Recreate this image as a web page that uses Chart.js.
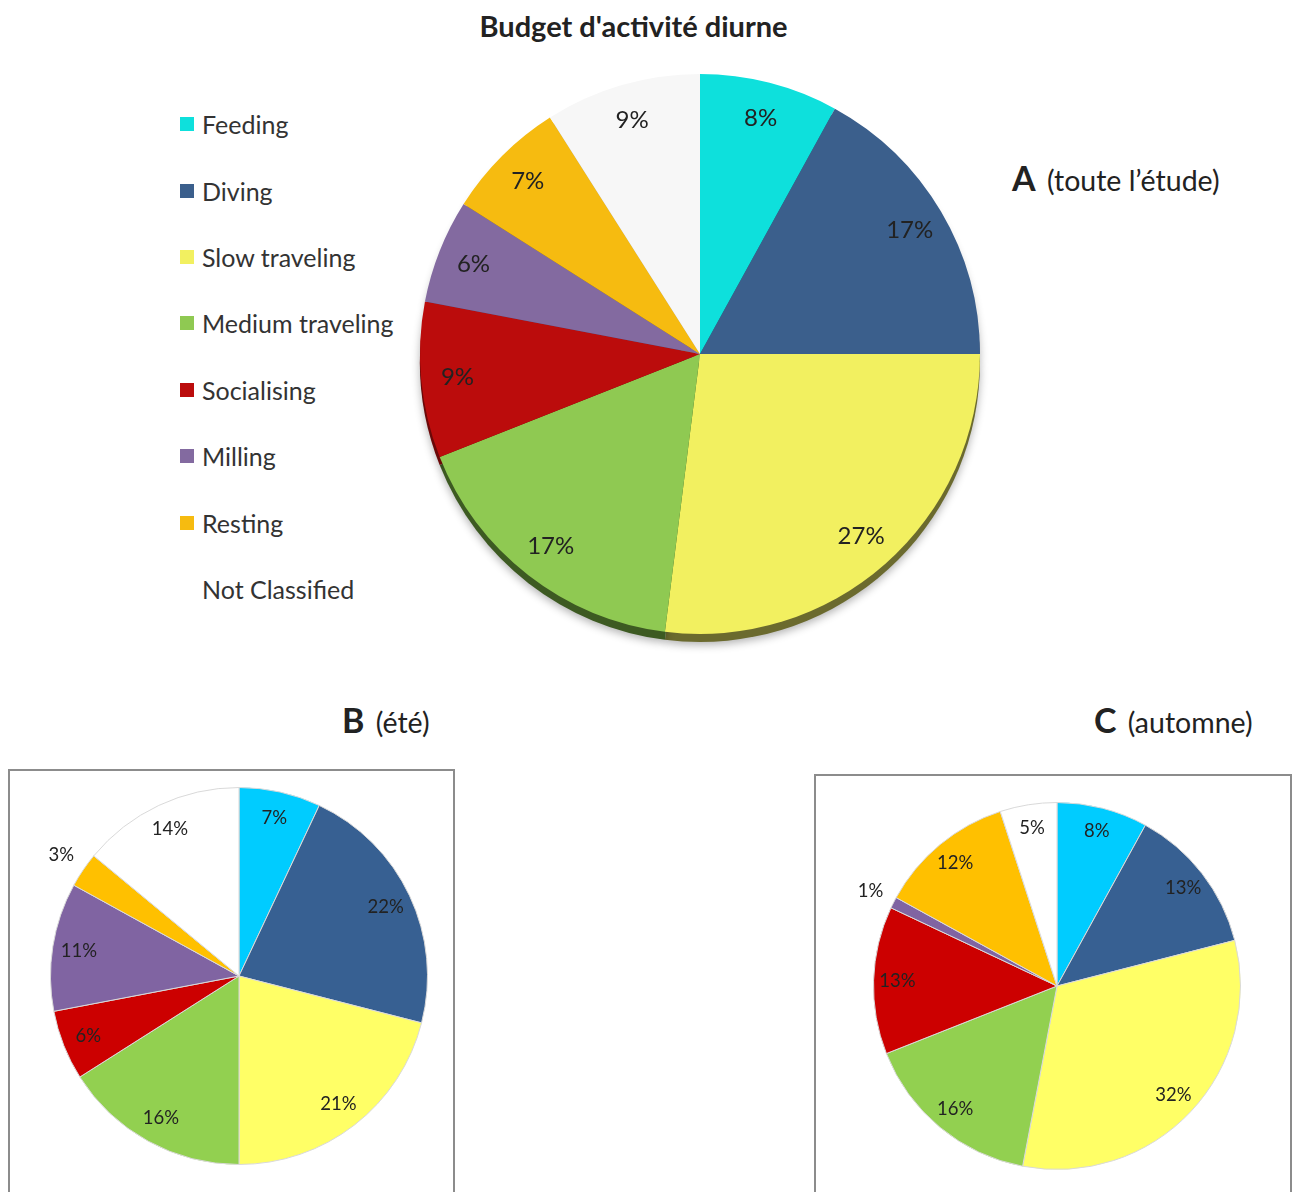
<!DOCTYPE html>
<html>
<head>
<meta charset="utf-8">
<title>Budget d'activité diurne</title>
<script src="https://cdn.jsdelivr.net/npm/chart.js@4.4.0/dist/chart.umd.min.js"></script>
<style>
  body { margin: 0; background: #fff; font-family: Lato, "Open Sans", sans-serif; color: #222; }
  #page { position: relative; width: 1292px; height: 1192px; overflow: hidden; }
  .abs { position: absolute; }
  .titre { font-weight: bold; font-size: 29px; line-height: 38px; white-space: nowrap; }
  .lettre { font-size: 28.5px; line-height: 40px; white-space: nowrap; }
  .lettre b { font-size: 34px; margin-right: 4px; }
  .cadre { border: 2px solid #8c8c8c; box-sizing: border-box; }
  #legende { left: 180px; top: 91px; }
  #legende .item { height: 66.4px; display: flex; align-items: center; font-size: 25px; color: #333; }
  #legende .carre { width: 14px; height: 14px; margin-right: 8px; }
</style>
</head>
<body>
<div id="page">
  <div class="abs titre" style="left:0; width:1267px; top:7px; text-align:center;">Budget d'activité diurne</div>
  <div class="abs lettre" style="left:1012px; top:158px;"><b>A</b> (toute l’étude)</div>
  <div class="abs lettre" style="left:342px; top:700px;"><b>B</b> (été)</div>
  <div class="abs lettre" style="left:1094px; top:700px;"><b>C</b> (automne)</div>

  <div id="legende" class="abs"></div>

  <div class="abs cadre" style="left:8px; top:769px; width:447px; height:440px;"></div>
  <div class="abs cadre" style="left:814px; top:774px; width:478px; height:440px;"></div>

  <canvas id="pieA" class="abs" width="580" height="600" style="left:410px; top:64px;"></canvas>
  <canvas id="pieB" class="abs" width="458" height="458" style="left:10px; top:747px;"></canvas>
  <canvas id="pieC" class="abs" width="448" height="448" style="left:833px; top:762px;"></canvas>
</div>

<script>
// categories et pourcentages par periode
const categories = ["Feeding", "Diving", "Slow traveling", "Medium traveling", "Socialising", "Milling", "Resting", "Not Classified"];
const valeursA = [8, 17, 27, 17, 9, 6, 7, 9];   // toute l'etude
const valeursB = [7, 22, 21, 16, 6, 11, 3, 14]; // ete
const valeursC = [8, 13, 32, 16, 13, 1, 12, 5]; // automne

const couleursA = ['#0ee0dc', '#3b5f8c', '#f2f060', '#8fc952', '#bb0c0c', '#836aa0', '#f6bb10', '#f7f7f7'];
const bordsA    = ['#0a8f8c', '#23384f', '#6b6a2e', '#3d5a22', '#6b0808', '#4b3c5c', '#8a6a08', '#a0a0a0'];
const couleursBC = ['#00ccff', '#376092', '#ffff66', '#92d050', '#cc0000', '#8064a2', '#ffc000', '#ffffff'];

// pourcentages ecrits dans les parts (ou a l'exterieur pour les petites)
const etiquettes = {
  id: 'etiquettes',
  afterDatasetsDraw(chart, args, opts) {
    const ctx = chart.ctx;
    const meta = chart.getDatasetMeta(0);
    const data = chart.data.datasets[0].data;
    const total = data.reduce((a, b) => a + b, 0);
    ctx.save();
    ctx.font = opts.font;
    ctx.fillStyle = opts.color;
    ctx.textAlign = 'center';
    ctx.textBaseline = 'middle';
    meta.data.forEach((arc, i) => {
      const p = arc.getProps(['x', 'y', 'startAngle', 'endAngle', 'outerRadius'], true);
      const mid = (p.startAngle + p.endAngle) / 2;
      const pct = Math.round(data[i] / total * 100);
      const k = pct < 4 ? opts.dehors : opts.dedans;
      ctx.fillText(pct + '%', p.x + Math.cos(mid) * p.outerRadius * k, p.y + Math.sin(mid) * p.outerRadius * k);
    });
    ctx.restore();
  }
};

// epaisseur sous le grand camembert
const ombre = {
  id: 'ombre',
  beforeDatasetsDraw(chart, args, opts) {
    const ctx = chart.ctx;
    const meta = chart.getDatasetMeta(0);
    ctx.save();
    ctx.shadowColor = 'rgba(0,0,0,0.3)';
    ctx.shadowBlur = 8;
    ctx.shadowOffsetY = 3;
    meta.data.forEach((arc, i) => {
      const p = arc.getProps(['x', 'y', 'startAngle', 'endAngle', 'outerRadius'], true);
      ctx.beginPath();
      ctx.moveTo(p.x, p.y + opts.decalage);
      ctx.arc(p.x, p.y + opts.decalage, p.outerRadius, p.startAngle, p.endAngle);
      ctx.closePath();
      ctx.fillStyle = opts.couleurs[i];
      ctx.fill();
    });
    ctx.restore();
  }
};

function camembert(id, valeurs, couleurs, cfg) {
  return new Chart(id, {
    type: 'pie',
    data: {
      labels: categories,
      datasets: [{
        data: valeurs,
        backgroundColor: couleurs,
        borderColor: cfg.bord,
        borderWidth: cfg.epaisseur,
      }]
    },
    options: {
      responsive: false,
      animation: false,
      layout: { padding: cfg.padding },
      plugins: {
        legend: { display: false },
        tooltip: { enabled: false },
        etiquettes: { font: cfg.police, color: '#222', dedans: cfg.dedans, dehors: 1.14 },
        ombre: { decalage: 8, couleurs: bordsA },
      }
    },
    plugins: cfg.ombre ? [ombre, etiquettes] : [etiquettes]
  });
}

const chartA = camembert('pieA', valeursA, couleursA, {
  bord: couleursA, epaisseur: 0, padding: { left: 10, right: 10, top: 10, bottom: 30 },
  police: '24px Lato', dedans: 0.87, ombre: true
});
camembert('pieB', valeursB, couleursBC, {
  bord: '#d9d9d9', epaisseur: 1, padding: 40, police: '18.5px Lato', dedans: 0.86
});
camembert('pieC', valeursC, couleursBC, {
  bord: '#d9d9d9', epaisseur: 1, padding: 40, police: '18.5px Lato', dedans: 0.87
});

// legende HTML a partir des libelles generes par Chart.js
const items = Chart.overrides.pie.plugins.legend.labels.generateLabels(chartA);
const leg = document.getElementById('legende');
items.forEach(it => {
  const row = document.createElement('div');
  row.className = 'item';
  const sq = document.createElement('span');
  sq.className = 'carre';
  sq.style.background = it.text === 'Not Classified' ? '#ffffff' : it.fillStyle;
  const tx = document.createElement('span');
  tx.textContent = it.text;
  row.appendChild(sq);
  row.appendChild(tx);
  leg.appendChild(row);
});
</script>
</body>
</html>
